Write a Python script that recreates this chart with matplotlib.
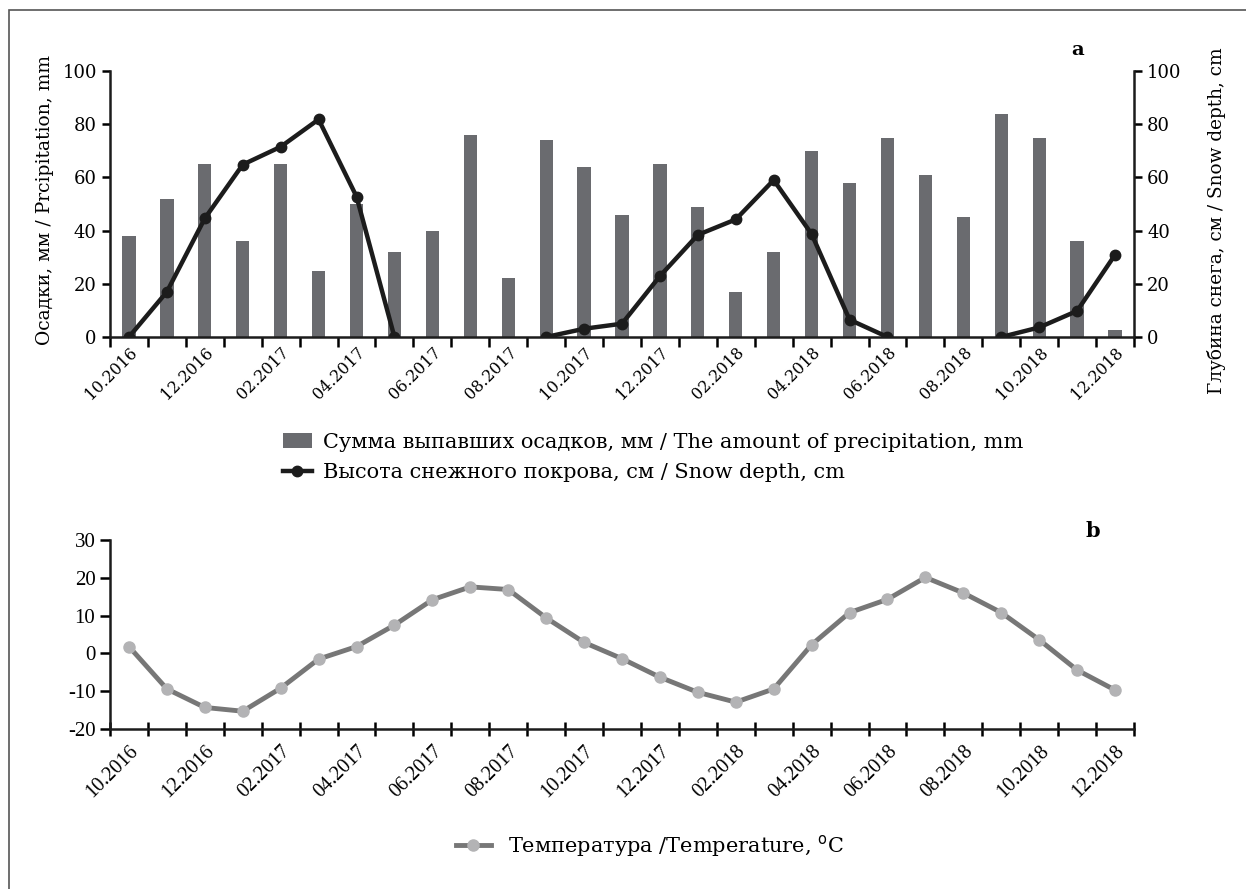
import matplotlib
matplotlib.use("Agg")
import matplotlib.pyplot as plt
import numpy as np
from matplotlib.patches import Rectangle, Patch
from matplotlib.lines import Line2D

plt.rcParams["axes.unicode_minus"] = False

# Месяцы 10.2016 - 12.2018
months = ["10.2016", "11.2016", "12.2016", "01.2017", "02.2017", "03.2017", "04.2017",
          "05.2017", "06.2017", "07.2017", "08.2017", "09.2017", "10.2017", "11.2017",
          "12.2017", "01.2018", "02.2018", "03.2018", "04.2018", "05.2018", "06.2018",
          "07.2018", "08.2018", "09.2018", "10.2018", "11.2018", "12.2018"]

# осадки, мм
precip = [38, 52, 65, 36, 65, 25, 50, 32, 40, 76, 22, 74, 64, 46,
          65, 49, 17, 32, 70, 58, 75, 61, 45, 84, 75, 36, 2.6]

# снег, см (nan = нет снега)
snow = [0, 17, 44.6, 64.8, 71.5, 81.8, 52.8, 0, np.nan, np.nan, np.nan, 0, 3.1, 5.0,
        22.9, 38.4, 44.2, 59, 38.7, 6.5, 0, np.nan, np.nan, 0, 3.6, 9.8, 30.9]

# температура, C
temp = [1.8, -9.4, -14.3, -15.3, -9.2, -1.5, 1.8, 7.5, 14.2, 17.6, 16.9, 9.4, 2.9, -1.4,
        -6.3, -10.3, -12.9, -9.4, 2.3, 10.8, 14.3, 20.1, 16.0, 10.8, 3.6, -4.4, -9.7]

x = np.arange(len(months))
top_font = "DejaVu Serif"
bot_font = "Liberation Serif"

fig = plt.figure(figsize=(12.46, 8.89), dpi=100)

# рамка (обрезана справа и снизу)
fig.patches.append(Rectangle((9 / 1246, -0.1), 1.2, 1.1 - 10 / 889, transform=fig.transFigure,
                             fill=False, edgecolor="#555555", linewidth=1.2))

# ---- a ----
ax = fig.add_axes([110 / 1246, 1 - 337 / 889, 1024 / 1246, 266 / 889])
ax.bar(x, precip, width=0.35, color="#6a6b6f", zorder=2)
ax.set_xlim(-0.5, len(months) - 0.5)
ax.set_ylim(0, 100)
ax.set_yticks(np.arange(0, 101, 20))
ax2 = ax.twinx()
ax2.plot(x, snow, color="#1c1c1c", linewidth=3.2, marker="o", markersize=7.5, zorder=3)
ax2.set_ylim(0, 100)
ax2.set_yticks(np.arange(0, 101, 20))

for a in (ax, ax2):
    a.spines["top"].set_visible(False)
    for s in a.spines.values():
        s.set_linewidth(1.8)
        s.set_color("#1c1c1c")
ax.spines["right"].set_visible(False)
ax2.spines["left"].set_visible(False)
ax2.spines["bottom"].set_visible(False)

ax.set_xticks(x[::2])
ax.set_xticklabels(months[::2], rotation=45, ha="right", rotation_mode="anchor",
                   fontfamily=top_font, fontsize=11.5)
ax.set_xticks(np.arange(-0.5, len(months)), minor=True)
ax.tick_params(axis="x", which="major", length=0, pad=5)
ax.tick_params(axis="x", which="minor", length=7, width=1.8, direction="out")
ax.tick_params(axis="y", length=6, width=1.8, labelsize=13)
ax2.tick_params(axis="y", length=6, width=1.8, labelsize=13)
for lab in ax.get_yticklabels() + ax2.get_yticklabels():
    lab.set_fontfamily(top_font)

fig.text(45 / 1246, 1 - 200 / 889, "Осадки, мм / Prcipitation, mm", rotation=90,
         ha="center", va="center", fontfamily=top_font, fontsize=13.5)
fig.text(1217 / 1246, 1 - 221 / 889, "Глубина снега, см / Snow depth, cm", rotation=90,
         ha="center", va="center", fontfamily=top_font, fontsize=13.3)
fig.text(1078 / 1246, 1 - 50 / 889, "a", ha="center", va="center",
         fontfamily=top_font, fontsize=14, fontweight="bold")

h1 = Patch(facecolor="#6a6b6f")
h2 = Line2D([], [], color="#1c1c1c", linewidth=3.2, marker="o", markersize=7.5)
fig.legend([h1, h2], ["Сумма выпавших осадков, мм / The amount of precipitation, mm",
                      "Высота снежного покрова, см / Snow depth, cm"],
           loc="upper left", bbox_to_anchor=(264 / 1246, 1 - 414 / 889), frameon=False,
           prop={"family": top_font, "size": 15}, handlelength=1.4, handletextpad=0.55,
           labelspacing=0.55)

# ---- b ----
bx = fig.add_axes([110 / 1246, 1 - 729 / 889, 1024 / 1246, 189 / 889])
bx.plot(x, temp, color="#777777", linewidth=3.5, marker="o", markersize=8,
        markerfacecolor="#b3b3b5", markeredgecolor="#b3b3b5")
bx.set_xlim(-0.5, len(months) - 0.5)
bx.set_ylim(-20, 30)
bx.set_yticks(np.arange(-20, 31, 10))
bx.spines["top"].set_visible(False)
bx.spines["right"].set_visible(False)
for s in bx.spines.values():
    s.set_linewidth(1.8)
    s.set_color("#1c1c1c")
bx.set_xticks(x[::2])
bx.set_xticklabels(months[::2], rotation=45, ha="right", rotation_mode="anchor",
                   fontfamily=bot_font, fontsize=14.5)
bx.set_xticks(np.arange(-0.5, len(months)), minor=True)
bx.tick_params(axis="x", which="major", length=0, pad=9)
bx.tick_params(axis="x", which="minor", length=10, width=1.8, direction="inout")
bx.tick_params(axis="y", length=7, width=1.8, direction="out", labelsize=15)
for lab in bx.get_yticklabels():
    lab.set_fontfamily(bot_font)

fig.text(1093 / 1246, 1 - 531 / 889, "b", ha="center", va="center",
         fontfamily=top_font, fontsize=15, fontweight="bold")

h3 = Line2D([], [], color="#777777", linewidth=3.5, marker="o", markersize=8,
            markerfacecolor="#b3b3b5", markeredgecolor="#b3b3b5")
fig.legend([h3], ["Температура /Temperature, $^{\\mathrm{o}}$C"],
           loc="center left", bbox_to_anchor=(437 / 1246, 1 - 846 / 889), frameon=False,
           prop={"family": top_font, "size": 15}, handlelength=1.7, handletextpad=0.8)

fig.savefig("out.png", dpi=100)
